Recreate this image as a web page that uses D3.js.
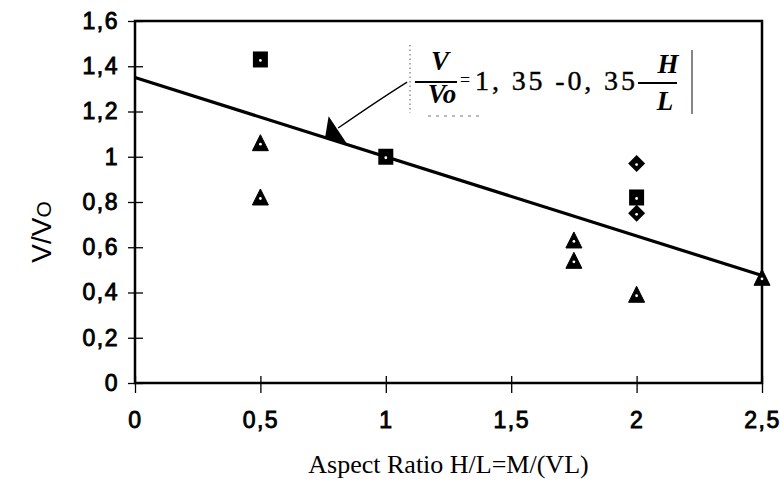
<!DOCTYPE html>
<html>
<head>
<meta charset="utf-8">
<script src="https://cdn.jsdelivr.net/npm/d3@7"></script>
<style>
  body { margin: 0; background: #fff; }
  svg { display: block; }
</style>
</head>
<body>
<svg id="chart"></svg>
<script>
// data
const squareX = [0.5, 1.0, 2.0];
const squareY = [1.43, 1.0, 0.82];
const triangleX = [0.5, 0.5, 1.75, 1.75, 2.0, 2.5];
const triangleY = [1.06, 0.82, 0.63, 0.54, 0.39, 0.465];
const diamondX = [2.0, 2.0];
const diamondY = [0.97, 0.75];
const fitX = [0, 2.5];
const fitIntercept = 1.35, fitSlope = -0.35;
const xTicks = [0, 0.5, 1, 1.5, 2, 2.5];
const yTicks = [0, 0.2, 0.4, 0.6, 0.8, 1, 1.2, 1.4, 1.6];
// callout arrow (data units)
const calloutX = [0.81, 1.085];
const calloutY = [1.127, 1.33];

const margin = { top: 21, right: 18, bottom: 112, left: 135 },
  width = 780 - margin.left - margin.right,
  height = 495 - margin.top - margin.bottom;

const svg = d3.select("#chart")
  .attr("width", 780)
  .attr("height", 495);

const g = svg.append("g")
  .attr("transform", `translate(${margin.left},${margin.top})`);

const x = d3.scaleLinear().domain([0, 2.5]).range([0, width]);
const y = d3.scaleLinear().domain([0, 1.6]).range([height, 0]);

const fmt = d => String(d).replace(".", ",");
const sans = "'Liberation Sans', Arial, sans-serif";
const serif = "'Liberation Serif', 'Times New Roman', serif";

// frame
g.append("rect")
  .attr("x", 0).attr("y", 0)
  .attr("width", width).attr("height", height)
  .attr("fill", "none")
  .attr("stroke", "#000")
  .attr("stroke-width", 2.5);

// y axis
const yAxis = g.append("g")
  .call(d3.axisLeft(y).tickValues(yTicks).tickFormat(fmt).tickSize(7).tickPadding(9));
yAxis.select(".domain").remove();
yAxis.selectAll(".tick line").attr("x1", 8).attr("stroke-width", 1.3);
yAxis.selectAll("text")
  .style("font-family", sans)
  .style("font-size", "23px")
  .style("letter-spacing", "1.5px")
  .attr("fill", "#000")
  .attr("stroke", "#000")
  .attr("stroke-width", 0.9);

// x axis
const xAxis = g.append("g")
  .attr("transform", `translate(0,${height})`)
  .call(d3.axisBottom(x).tickValues(xTicks).tickFormat(fmt).tickSize(10).tickPadding(19));
xAxis.select(".domain").remove();
xAxis.selectAll(".tick line").attr("y1", -7).attr("stroke-width", 1.3);
xAxis.selectAll("text")
  .style("font-family", sans)
  .style("font-size", "23px")
  .style("letter-spacing", "1.5px")
  .attr("fill", "#000")
  .attr("stroke", "#000")
  .attr("stroke-width", 0.9);

// axis titles
svg.append("text")
  .attr("transform", "translate(51,232) rotate(-90)")
  .attr("text-anchor", "middle")
  .style("font-family", sans)
  .style("font-size", "28px")
  .text("V/V")
  .append("tspan")
  .style("font-size", "21px")
  .text("O");

svg.append("text")
  .attr("x", margin.left + x(1.25))
  .attr("y", 473)
  .attr("text-anchor", "middle")
  .style("font-family", serif)
  .style("font-size", "26px")
  .text("Aspect Ratio H/L=M/(VL)");

// regression line
const line = d3.line().x(d => x(d)).y(d => y(fitIntercept + fitSlope * d));
g.append("path")
  .datum(fitX)
  .attr("d", line)
  .attr("fill", "none")
  .attr("stroke", "#000")
  .attr("stroke-width", 3.2);

// callout line + arrowhead
g.append("path")
  .attr("d", `M${x(calloutX[0])},${y(calloutY[0])} Q${x(0.97)},${y(1.25)} ${x(calloutX[1])},${y(calloutY[1])}`)
  .attr("fill", "none")
  .attr("stroke", "#000")
  .attr("stroke-width", 1.3);

const ax = x(0.78), ay = y(fitIntercept + fitSlope * 0.78);
g.append("path")
  .attr("d", `M${ax - 2},${ay - 23} L${ax - 5.5},${ay - 2} L${ax + 16},${ay + 4} Z`)
  .attr("fill", "#000");

// markers
const pts = (xs, ys) => xs.map((v, i) => ({ x: v, y: ys[i] }));

g.selectAll(".sq")
  .data(pts(squareX, squareY))
  .join("rect")
  .attr("class", "sq")
  .attr("x", d => x(d.x) - 7.5)
  .attr("y", d => y(d.y) - 8)
  .attr("width", 15)
  .attr("height", 16)
  .attr("fill", "#000");

g.selectAll(".tri")
  .data(pts(triangleX, triangleY))
  .join("path")
  .attr("class", "tri")
  .attr("transform", d => `translate(${x(d.x)},${y(d.y)})`)
  .attr("d", "M0,-8.5L8,7.5L-8,7.5Z")
  .attr("fill", "#000")
  .attr("stroke", "#000")
  .attr("stroke-width", 1);

g.selectAll(".dia")
  .data(pts(diamondX, diamondY))
  .join("path")
  .attr("class", "dia")
  .attr("transform", d => `translate(${x(d.x)},${y(d.y)})`)
  .attr("d", "M0,-8.5L8.5,0L0,8.5L-8.5,0Z")
  .attr("fill", "#000");

// small white centres
const allPts = pts(squareX, squareY).concat(pts(triangleX, triangleY), pts(diamondX, diamondY));
g.selectAll(".dot")
  .data(allPts)
  .join("circle")
  .attr("class", "dot")
  .attr("cx", d => x(d.x))
  .attr("cy", d => y(d.y) + 1)
  .attr("r", 1.4)
  .attr("fill", "#fff");

// equation text box
const eq = svg.append("g").attr("transform", "translate(410,45)");

eq.append("line")
  .attr("x1", 0).attr("x2", 0).attr("y1", 0).attr("y2", 68)
  .attr("stroke", "#777").attr("stroke-width", 1.2).attr("stroke-dasharray", "1.5,3");
eq.append("line")
  .attr("x1", 18).attr("x2", 72).attr("y1", 71).attr("y2", 71)
  .attr("stroke", "#777").attr("stroke-width", 1.2).attr("stroke-dasharray", "3,5");
eq.append("line")
  .attr("x1", 282).attr("x2", 282).attr("y1", 5).attr("y2", 69)
  .attr("stroke", "#333").attr("stroke-width", 1.2);

const bi = sel => sel.style("font-family", serif).style("font-style", "italic")
  .style("font-weight", "bold").style("font-size", "27px").attr("text-anchor", "middle");

eq.append("text").attr("x", 30).attr("y", 25).text("V").call(bi);
eq.append("line").attr("x1", 5).attr("x2", 47).attr("y1", 37).attr("y2", 37)
  .attr("stroke", "#000").attr("stroke-width", 2);
eq.append("text").attr("x", 32).attr("y", 58).text("Vo").call(bi);

eq.append("text").attr("x", 55).attr("y", 41)
  .attr("text-anchor", "middle")
  .style("font-family", serif).style("font-size", "18px")
  .text("=");

eq.append("text").attr("x", 65).attr("y", 45)
  .attr("textLength", 160).attr("lengthAdjust", "spacing")
  .style("font-family", serif).style("font-size", "28px")
  .attr("stroke", "#000").attr("stroke-width", 0.4)
  .text("1, 35 -0, 35");

eq.append("text").attr("x", 258).attr("y", 28).text("H").call(bi);
eq.append("line").attr("x1", 228).attr("x2", 267).attr("y1", 38).attr("y2", 38)
  .attr("stroke", "#000").attr("stroke-width", 2);
eq.append("text").attr("x", 255).attr("y", 65).text("L").call(bi);
</script>
</body>
</html>
